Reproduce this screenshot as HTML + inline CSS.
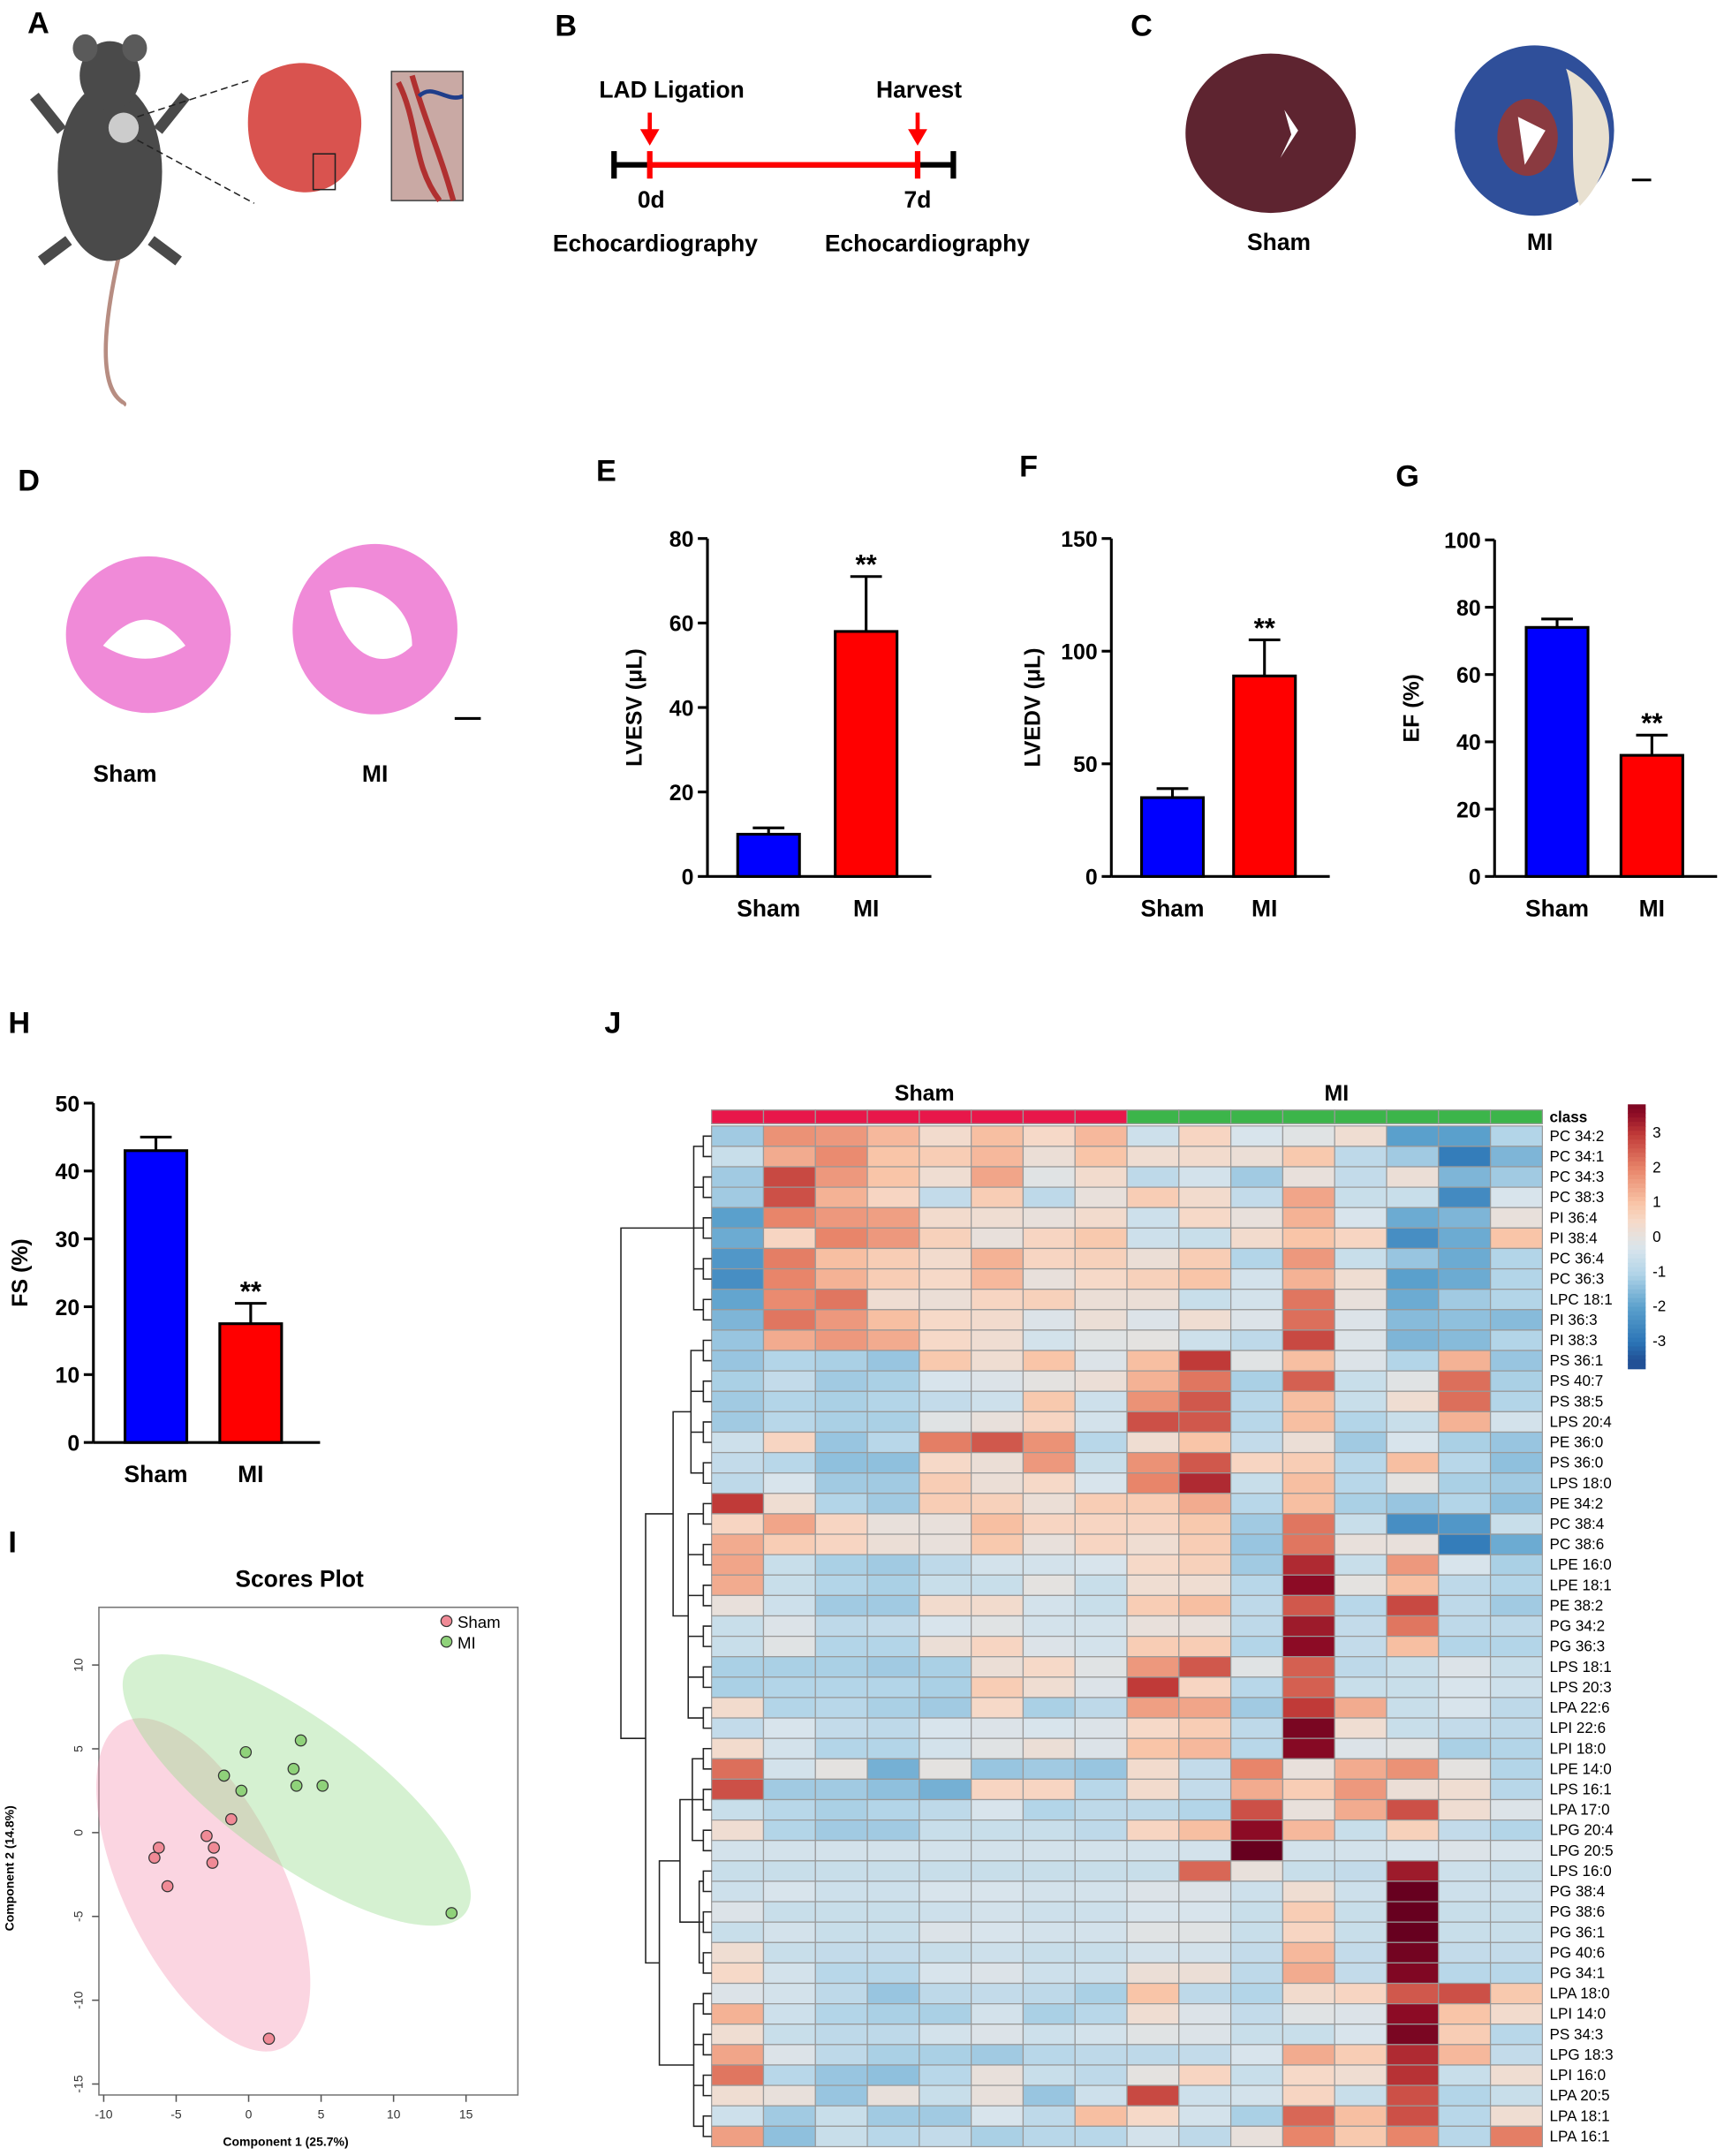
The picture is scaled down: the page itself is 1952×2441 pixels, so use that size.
<!DOCTYPE html>
<html><head><meta charset="utf-8"><style>
html,body{margin:0;padding:0;background:#fff;}
svg{display:block;font-family:"Liberation Sans",Arial,sans-serif;}
</style></head><body>
<svg id="fig" width="1952" height="2441" viewBox="0 0 1255 1569.4" preserveAspectRatio="none" xmlns="http://www.w3.org/2000/svg">
<g font-weight="bold" font-size="22">
<text x="20" y="24">A</text><text x="404" y="26">B</text><text x="823" y="26">C</text>
<text x="13" y="357">D</text><text x="434" y="350">E</text><text x="742" y="347">F</text>
<text x="1016" y="354">G</text><text x="6" y="752">H</text><text x="6" y="1130">I</text><text x="440" y="752">J</text>
</g>
<!-- Panel A -->
<g>
<path d="M88,180 C60,300 95,290 90,295" stroke="#b78d82" stroke-width="3" fill="none"/>
<ellipse cx="80" cy="125" rx="38" ry="65" fill="#4a4a4a"/>
<ellipse cx="80" cy="55" rx="22" ry="25" fill="#4a4a4a"/>
<ellipse cx="62" cy="35" rx="9" ry="10" fill="#5a5a5a"/><ellipse cx="98" cy="35" rx="9" ry="10" fill="#5a5a5a"/>
<path d="M45,95 L25,70 M115,95 L135,70 M50,175 L30,190 M110,175 L130,190" stroke="#4a4a4a" stroke-width="8"/>
<circle cx="90" cy="93" r="11" fill="#ccc"/>
<path d="M100,85 L183,58 M100,102 L185,148" stroke="#222" stroke-dasharray="5,3"/>
<path d="M190,55 C230,30 270,60 262,100 C258,140 220,150 195,130 C175,110 178,70 190,55Z" fill="#d9534f"/>
<rect x="228" y="112" width="16" height="26" fill="none" stroke="#222"/>
<rect x="285" y="52" width="52" height="94" fill="#c9a9a4" stroke="#444"/>
<path d="M290,60 C305,90 300,120 320,146 M300,55 C310,90 320,110 330,146" stroke="#b03030" stroke-width="4" fill="none"/>
<path d="M305,70 C315,60 325,75 337,70" stroke="#1f3d8a" stroke-width="3" fill="none"/>
</g>
<!-- Panel B -->
<g font-weight="bold" font-size="17" text-anchor="middle">
<line x1="447" y1="120" x2="694" y2="120" stroke="#000" stroke-width="4"/>
<line x1="447" y1="110" x2="447" y2="130" stroke="#000" stroke-width="4"/>
<line x1="694" y1="110" x2="694" y2="130" stroke="#000" stroke-width="4"/>
<line x1="473" y1="120" x2="668" y2="120" stroke="#f00" stroke-width="4"/>
<line x1="473" y1="110" x2="473" y2="130" stroke="#f00" stroke-width="4"/>
<line x1="668" y1="110" x2="668" y2="130" stroke="#f00" stroke-width="4"/>
<line x1="473" y1="82" x2="473" y2="96" stroke="#f00" stroke-width="3"/><polygon points="466,94 480,94 473,106" fill="#f00"/>
<line x1="668" y1="82" x2="668" y2="96" stroke="#f00" stroke-width="3"/><polygon points="661,94 675,94 668,106" fill="#f00"/>
<text x="489" y="71">LAD Ligation</text><text x="669" y="71">Harvest</text>
<text x="474" y="151">0d</text><text x="668" y="151">7d</text>
<text x="477" y="183">Echocardiography</text><text x="675" y="183">Echocardiography</text>
</g>
<!-- Panel C -->
<g font-weight="bold" font-size="17" text-anchor="middle">
<ellipse cx="925" cy="97" rx="62" ry="58" fill="#5e2430"/>
<path d="M935,80 L945,95 L932,115 L940,98Z" fill="#fff"/>
<ellipse cx="1117" cy="95" rx="58" ry="62" fill="#2f4f9a"/>
<path d="M1140,50 C1180,70 1180,120 1150,150 C1140,120 1150,80 1140,50Z" fill="#e8e0d0"/>
<ellipse cx="1112" cy="100" rx="22" ry="28" fill="#8a3a40"/>
<path d="M1105,85 L1125,95 L1110,120 Z" fill="#fff"/>
<line x1="1188" y1="131" x2="1202" y2="131" stroke="#000" stroke-width="2"/>
<text x="931" y="182">Sham</text><text x="1121" y="182">MI</text>
</g>
<!-- Panel D -->
<g font-weight="bold" font-size="17" text-anchor="middle">
<ellipse cx="108" cy="462" rx="60" ry="57" fill="#f08ad8"/>
<path d="M75,470 C100,440 120,450 135,470 C120,480 100,485 75,470Z" fill="#fff"/>
<ellipse cx="273" cy="458" rx="60" ry="62" fill="#f08ad8"/>
<path d="M240,430 C270,420 300,440 300,470 C280,490 250,480 240,430Z" fill="#fff"/>
<line x1="331" y1="523" x2="350" y2="523" stroke="#000" stroke-width="2"/>
<text x="91" y="569">Sham</text><text x="273" y="569">MI</text>
</g>
<g id="bars"></g>
<g id="pca"></g>
<g id="heat"></g>
</svg>
<script>
// ---------- Bar chart data ----------
const barGroups = ["Sham", "MI"];
const lvesvMeans = [10, 58];
const lvesvErr = [1.5, 13];
const lvedvMeans = [35, 89];
const lvedvErr = [4, 16];
const efMeans = [74, 36];
const efErr = [2.5, 6];
const fsMeans = [43, 17.5];
const fsErr = [2, 3];
const lvesvTicks = [0, 20, 40, 60, 80];
const lvedvTicks = [0, 50, 100, 150];
const efTicks = [0, 20, 40, 60, 80, 100];
const fsTicks = [0, 10, 20, 30, 40, 50];

// ---------- PCA data ----------
const shamX = [-6.5, -6.2, -5.6, -2.9, -2.4, -2.5, -1.2, 1.4];
const shamY = [-1.5, -0.9, -3.2, -0.2, -0.9, -1.8, 0.8, -12.3];
const miX = [-1.7, -0.5, -0.2, 3.1, 3.3, 3.6, 5.1, 14.0];
const miY = [3.4, 2.5, 4.8, 3.8, 2.8, 5.5, 2.8, -4.8];
const pcaXTicks = [-10, -5, 0, 5, 10, 15];
const pcaYTicks = [10, 5, 0, -5, -10, -15];

// ---------- Heatmap data ----------
const lipids = ["PC 34:2","PC 34:1","PC 34:3","PC 38:3","PI 36:4","PI 38:4","PC 36:4","PC 36:3","LPC 18:1","PI 36:3","PI 38:3","PS 36:1","PS 40:7","PS 38:5","LPS 20:4","PE 36:0","PS 36:0","LPS 18:0","PE 34:2","PC 38:4","PC 38:6","LPE 16:0","LPE 18:1","PE 38:2","PG 34:2","PG 36:3","LPS 18:1","LPS 20:3","LPA 22:6","LPI 22:6","LPI 18:0","LPE 14:0","LPS 16:1","LPA 17:0","LPG 20:4","LPG 20:5","LPS 16:0","PG 38:4","PG 38:6","PG 36:1","PG 40:6","PG 34:1","LPA 18:0","LPI 14:0","PS 34:3","LPG 18:3","LPI 16:0","LPA 20:5","LPA 18:1","LPA 16:1"];
const sampleClass = ["Sham","Sham","Sham","Sham","Sham","Sham","Sham","Sham","MI","MI","MI","MI","MI","MI","MI","MI"];
const heatValues = [
[-1.2,1.8,1.7,1.2,0.4,1.1,0.5,1.2,-0.5,0.6,-0.3,-0.1,0.3,-2,-2,-1],
[-0.6,1.4,1.9,1.0,0.8,1.2,0.2,1.0,0.3,0.4,0.2,0.9,-0.8,-1.2,-2.8,-1.6],
[-1.2,2.8,1.7,1.0,0.3,1.5,-0.1,0.4,-0.8,-0.4,-1.2,0.1,-0.7,0.2,-1.6,-1.2],
[-1.2,2.7,1.3,0.6,-0.7,0.8,-0.8,0.1,0.8,0.4,-0.7,1.5,-0.6,-0.6,-2.5,-0.3],
[-2,2.0,1.7,1.6,0.4,0.3,0.1,0.4,-0.5,0.5,0.1,1.3,-0.3,-1.8,-1.6,0.1],
[-1.8,0.6,2.0,1.7,0.7,0.1,0.6,0.9,-0.5,-0.6,0.4,1.0,0.6,-2.4,-1.8,1.0],
[-2.2,2.1,1.1,0.8,0.4,1.3,0.6,0.7,0.2,0.8,-1.0,1.7,-0.6,-1.3,-1.8,-1],
[-2.4,2.0,1.3,0.8,0.5,1.2,0.1,0.5,0.7,1.0,-0.4,1.3,0.3,-2,-1.8,-1],
[-1.9,1.9,2.2,0.3,0.2,0.6,0.7,0.2,0.2,-0.6,-0.4,2.2,0.1,-1.8,-1.2,-1],
[-1.6,2.2,1.7,1.1,0.5,0.4,-0.2,0.2,-0.2,0.3,-0.2,2.3,-0.2,-1.5,-1.4,-1.5],
[-1.3,1.4,1.7,1.4,0.5,0.3,-0.4,-0.1,0,-0.5,-0.8,2.8,-0.2,-1.6,-1.5,-1],
[-1.3,-1,-1.1,-1.3,0.9,0.3,1.0,-0.2,1.1,3.0,-0.1,1.1,-0.2,-1,1.3,-1.3],
[-1.1,-0.7,-1.2,-1.1,-0.3,-0.2,0,0.2,1.3,2.2,-1.1,2.5,-0.6,-0.1,2.3,-1.1],
[-1.2,-1,-1.1,-1,-0.7,-0.5,0.9,-0.5,1.8,2.6,-0.9,1.1,-0.6,0.3,2.3,-1],
[-1.2,-0.9,-1.1,-1.1,-0.1,0.1,0.6,-0.4,2.7,2.6,-0.9,1.1,-1.0,-0.6,1.3,-0.4],
[-0.5,0.6,-1.3,-0.9,2.1,2.6,1.8,-0.9,0.3,1.0,-0.7,0.2,-1.2,-0.3,-1.1,-1.3],
[-0.7,-0.9,-1.4,-1.4,0.5,0.2,1.7,-0.6,1.8,2.6,0.6,0.8,-0.9,1.1,-0.9,-1.4],
[-0.8,-0.3,-1.2,-1.2,0.8,0.2,0.5,-0.3,2.0,3.2,-0.6,1.1,-0.9,0,-1.1,-1.2],
[3.0,0.3,-1,-1.2,0.8,0.7,0.2,0.8,0.8,1.4,-0.9,1.1,-1.1,-1.3,-1,-1.4],
[0.6,1.5,0.6,0.1,0.1,1.1,0.6,0.6,0.6,0.9,-1.2,2.2,-0.6,-2.4,-2.2,-0.6],
[1.4,0.8,0.6,0.2,0.1,0.9,0.1,0.6,0.3,0.8,-1.3,2.2,0.1,0.1,-2.8,-1.8],
[1.5,-0.6,-1.1,-1.2,-0.8,-0.4,-0.4,-0.3,0.5,0.7,-1.2,3.2,-0.6,1.7,-0.3,-1.1],
[1.4,-0.6,-1,-1.1,-0.6,-0.6,0,-0.6,0.3,0.3,-0.9,3.6,0,1.1,-0.8,-1],
[0.1,-0.5,-1.2,-1.2,0.4,0.4,-0.4,-0.6,0.8,1.1,-0.8,2.6,-0.9,2.8,-0.8,-1.2],
[-0.6,-0.2,-0.8,-0.7,-0.3,-0.1,-0.4,-0.4,0.1,0.1,-0.8,3.4,-0.7,2.2,-0.8,-0.8],
[-0.6,-0.1,-1,-1,0.2,0.6,-0.2,-0.4,0.8,0.8,-1,3.6,-0.7,1.1,-1,-1],
[-1.1,-1.1,-1.1,-1.2,-1.1,0.2,0.5,-0.1,1.7,2.6,-0.1,2.5,-0.8,-0.6,-0.2,-0.6],
[-1.1,-1,-1,-1,-1.1,0.8,0.3,-0.2,3.0,0.6,-0.9,2.5,-0.6,-0.6,-0.3,-0.5],
[0.4,-1,-0.9,-1.1,-1.2,0.5,-1.1,-0.8,1.6,1.5,-1.2,3.0,1.4,-0.6,-0.3,-0.8],
[-0.7,-0.3,-0.7,-0.8,-0.3,-0.2,-0.3,-0.2,0.5,0.8,-0.8,3.9,0.3,-0.6,-0.7,-0.8],
[0.4,-0.4,-1,-1,-0.4,-0.1,0.2,-0.2,1.0,1.2,-0.9,3.7,-0.2,-0.1,-1.1,-1],
[2.3,-0.4,0,-1.7,0,-1.3,-1.2,-1.3,0.4,-0.7,2.0,0.1,1.4,1.8,0,-1],
[2.7,-1.2,-1.2,-1.4,-1.7,0.6,0.6,-0.9,0.4,-0.7,1.4,0.8,1.7,0.2,0.3,-0.9],
[-0.6,-0.9,-1.1,-1,-0.8,-0.3,-1,-0.8,-0.8,-1,2.7,0.1,1.4,2.7,0.3,-0.2],
[0.3,-1,-1.2,-1.2,-0.6,-0.6,-0.6,-0.8,0.6,1.1,3.6,1.2,-0.6,0.7,-0.7,-1],
[-0.4,-0.4,-0.4,-0.4,-0.4,-0.4,-0.4,-0.4,-0.4,-0.4,4.2,-0.4,-0.4,-0.3,-0.2,-0.3],
[-0.6,-0.6,-0.6,-0.6,-0.6,-0.6,-0.6,-0.6,-0.6,2.4,0.1,-0.6,-0.7,3.4,-0.5,-0.6],
[-0.5,-0.3,-0.5,-0.5,-0.3,-0.3,-0.4,-0.4,-0.2,-0.2,-0.5,0.3,-0.5,4.2,-0.5,-0.5],
[-0.2,-0.6,-0.6,-0.6,-0.5,-0.4,-0.5,-0.5,-0.3,-0.3,-0.6,0.8,-0.6,4.2,-0.6,-0.6],
[-0.6,-0.4,-0.6,-0.6,-0.2,-0.3,-0.4,-0.4,-0.1,-0.1,-0.6,0.6,-0.6,4.2,-0.6,-0.6],
[0.3,-0.6,-0.7,-0.7,-0.6,-0.5,-0.6,-0.6,-0.4,-0.4,-0.7,1.2,-0.7,4.0,-0.7,-0.7],
[0.5,-0.4,-0.9,-0.9,-0.3,-0.2,-0.5,-0.5,0.2,0.2,-0.8,1.4,-0.7,3.8,-0.9,-0.9],
[-0.2,-0.4,-0.8,-1.3,-0.8,-0.7,-0.8,-1.1,1.0,-0.8,-1,0.4,0.6,2.6,2.7,0.9],
[1.3,-0.5,-1,-1.1,-1.1,-0.4,-1.1,-0.9,0.3,-0.2,-0.7,-0.1,-0.2,3.6,1.0,0.4],
[0.3,-0.6,-0.8,-0.8,-0.4,-0.2,-0.5,-0.4,-0.1,-0.2,-0.6,-0.6,-0.3,3.9,0.8,-0.9],
[1.5,-0.2,-0.8,-1.1,-1.1,-1.2,-0.9,-0.8,-0.8,-0.7,-0.3,1.4,0.8,3.2,1.2,-0.7],
[2.2,-0.9,-1.3,-1.4,-0.9,0.1,-0.6,-0.8,0,0.6,-0.6,0.5,0.3,3.1,-0.6,0.3],
[0.3,0.1,-1.3,0.1,-0.6,0.1,-1.3,-0.5,2.8,-0.5,-0.4,0.6,-0.6,2.7,-1,-0.6],
[-0.5,-1.2,-0.6,-1.2,-1.2,-0.3,-0.8,1.1,0.5,-0.4,-1.1,2.4,1.1,2.7,-0.9,0.3],
[1.6,-1.4,-0.6,-0.9,-0.7,-1.1,-0.9,-0.9,-0.4,-0.8,0.1,2.0,0.9,2.0,-0.9,2.1]
];
const legendTicks = [3, 2, 1, 0, -1, -2, -3];

const NS = "http://www.w3.org/2000/svg";
function mk(tag, attrs, parent, txt) {
  const e = document.createElementNS(NS, tag);
  for (const k in attrs) e.setAttribute(k, attrs[k]);
  if (txt !== undefined) e.textContent = txt;
  parent.appendChild(e);
  return e;
}

// ---------- bar charts ----------
function barChart(cfg, means, errs, ticks) {
  const g = mk("g", {}, document.getElementById("bars"));
  
  
  const maxV = ticks[ticks.length - 1];
  const y = v => cfg.y0 - (cfg.y0 - cfg.yTop) * v / maxV;
  mk("line", {x1: cfg.ax, y1: cfg.yTop, x2: cfg.ax, y2: cfg.y0, stroke: "#000", "stroke-width": 2}, g);
  mk("line", {x1: cfg.ax, y1: cfg.y0, x2: cfg.xEnd, y2: cfg.y0, stroke: "#000", "stroke-width": 2}, g);
  ticks.forEach(t => {
    mk("line", {x1: cfg.ax - 7, y1: y(t), x2: cfg.ax, y2: y(t), stroke: "#000", "stroke-width": 2}, g);
    const tl = mk("text", {x: cfg.ax - 10, y: y(t) + 6, "text-anchor": "end", "font-size": 16, "font-weight": "bold"}, g, String(t));
    
    
  });
  const yl = mk("text", {transform: `translate(${cfg.labX},${(cfg.yTop + cfg.y0) / 2}) rotate(-90)`, "text-anchor": "middle", "font-size": 16, "font-weight": "bold"}, g, cfg.ylabel);
  
  
  const colors = ["#0000ff", "#ff0000"];
  means.forEach((m, i) => {
    const x = cfg.bx[i];
    const top = y(m), et = y(m + errs[i]);
    mk("line", {x1: x + 22.5, y1: et, x2: x + 22.5, y2: top, stroke: "#000", "stroke-width": 2}, g);
    mk("line", {x1: x + 11, y1: et, x2: x + 34, y2: et, stroke: "#000", "stroke-width": 2}, g);
    const r = mk("rect", {x: x, y: top, width: 45, height: cfg.y0 - top, fill: colors[i], stroke: "#000", "stroke-width": 2}, g);
    
    
    const lb = mk("text", {x: x + 22.5, y: cfg.y0 + 29, "text-anchor": "middle", "font-size": 17, "font-weight": "bold"}, g, barGroups[i]);
    
    
    if (i === 1) {
      const s = mk("text", {x: x + 22.5, y: et - 2, "text-anchor": "middle", "font-size": 20, "font-weight": "bold"}, g, "**");
      
      
    }
  });
}
barChart({name: "lvesv-chart", ax: 515, yTop: 392, y0: 638, xEnd: 678, bx: [537, 608], labX: 467, ylabel: "LVESV (μL)"}, lvesvMeans, lvesvErr, lvesvTicks);
barChart({name: "lvedv-chart", ax: 809, yTop: 392, y0: 638, xEnd: 968, bx: [831, 898], labX: 757, ylabel: "LVEDV (μL)"}, lvedvMeans, lvedvErr, lvedvTicks);
barChart({name: "ef-chart", ax: 1088, yTop: 393, y0: 638, xEnd: 1250, bx: [1111, 1180], labX: 1033, ylabel: "EF (%)"}, efMeans, efErr, efTicks);
barChart({name: "fs-chart", ax: 68, yTop: 803, y0: 1050, xEnd: 233, bx: [91, 160], labX: 20, ylabel: "FS (%)"}, fsMeans, fsErr, fsTicks);

// ---------- PCA ----------
(function () {
  const g = document.getElementById("pca");
  
  
  const px = v => 181 + v * 10.55, py = v => 1334 - v * 12.2;
  mk("text", {x: 218, y: 1155, "text-anchor": "middle", "font-size": 17, "font-weight": "bold"}, g, "Scores Plot");
  mk("rect", {x: 72, y: 1170, width: 305, height: 355, fill: "none", stroke: "#777", "stroke-width": 1}, g);
  mk("ellipse", {cx: 148, cy: 1372, rx: 132, ry: 58, transform: "rotate(64 148 1372)", fill: "rgba(245,150,180,0.4)"}, g);
  mk("ellipse", {cx: 216, cy: 1303, rx: 152, ry: 52, transform: "rotate(36 216 1303)", fill: "rgba(150,220,140,0.4)"}, g);
  pcaXTicks.forEach(t => {
    mk("line", {x1: px(t), y1: 1525, x2: px(t), y2: 1530, stroke: "#555"}, g);
    mk("text", {x: px(t), y: 1542, "text-anchor": "middle", "font-size": 9, fill: "#333"}, g, String(t));
  });
  pcaYTicks.forEach(t => {
    mk("line", {x1: 67, y1: py(t), x2: 72, y2: py(t), stroke: "#555"}, g);
    mk("text", {transform: `translate(60,${py(t)}) rotate(-90)`, "text-anchor": "middle", "font-size": 9, fill: "#333"}, g, String(t));
  });
  mk("text", {x: 208, y: 1562, "text-anchor": "middle", "font-size": 9, "font-weight": "bold"}, g, "Component 1 (25.7%)");
  mk("text", {transform: "translate(10,1360) rotate(-90)", "text-anchor": "middle", "font-size": 9, "font-weight": "bold"}, g, "Component 2 (14.8%)");
  shamX.forEach((v, i) => {
    const c = mk("circle", {cx: px(v), cy: py(shamY[i]), r: 4, fill: "#f08a96", stroke: "#333", "stroke-width": 0.8}, g);
    
    
  });
  miX.forEach((v, i) => {
    const c = mk("circle", {cx: px(v), cy: py(miY[i]), r: 4, fill: "#8fd27a", stroke: "#333", "stroke-width": 0.8}, g);
    
    
  });
  const lg = mk("g", {}, g);
  
  
  mk("circle", {cx: 325, cy: 1180, r: 4, fill: "#f08a96", stroke: "#333", "stroke-width": 0.8}, lg);
  mk("text", {x: 333, y: 1185, "font-size": 12}, lg, "Sham");
  mk("circle", {cx: 325, cy: 1195, r: 4, fill: "#8fd27a", stroke: "#333", "stroke-width": 0.8}, lg);
  mk("text", {x: 333, y: 1200, "font-size": 12}, lg, "MI");
})();

// ---------- heatmap ----------
const stops = [[-3.5,[33,80,150]],[-3,[43,116,182]],[-2,[90,160,204]],[-1,[179,213,232]],[-0.3,[216,228,236]],[0,[228,226,224]],[0.5,[246,217,200]],[1,[249,197,168]],[2,[232,133,106]],[3,[192,58,56]],[3.6,[140,11,37]],[4.2,[103,0,31]]];
function col(v) {
  if (v <= stops[0][0]) v = stops[0][0];
  if (v >= stops[stops.length-1][0]) v = stops[stops.length-1][0];
  for (let i = 0; i < stops.length - 1; i++) {
    const a = stops[i], b = stops[i+1];
    if (v >= a[0] && v <= b[0]) {
      const t = (v - a[0]) / (b[0] - a[0]);
      const c = a[1].map((x, k) => Math.round(x + (b[1][k] - x) * t));
      return `rgb(${c[0]},${c[1]},${c[2]})`;
    }
  }
  return "#ccc";
}
(function () {
  const g = document.getElementById("heat");
  
  
  const x0 = 518, cw = 37.8, y0 = 819.6, rh = 14.86;
  mk("text", {x: 673, y: 801, "text-anchor": "middle", "font-size": 16, "font-weight": "bold"}, g, "Sham");
  mk("text", {x: 973, y: 801, "text-anchor": "middle", "font-size": 16, "font-weight": "bold"}, g, "MI");
  sampleClass.forEach((c, j) => {
    const r = mk("rect", {x: x0 + j * cw, y: 808, width: cw, height: 10, fill: c === "Sham" ? "#e8174a" : "#3cb54a", stroke: "#999", "stroke-width": 0.8}, g);
    
    
  });
  mk("text", {x: 1128, y: 817, "font-size": 11, "font-weight": "bold"}, g, "class");
  heatValues.forEach((row, i) => {
    row.forEach((v, j) => {
      const r = mk("rect", {x: x0 + j * cw, y: y0 + i * rh, width: cw, height: rh, fill: col(v), stroke: "#999", "stroke-width": 0.8}, g);
      
      
    });
    const t = mk("text", {x: 1128, y: y0 + i * rh + 11, "font-size": 11}, g, lipids[i]);
    
    
  });
  // color legend
  const lg = mk("g", {}, g);
  
  
  const ly = v => 900 - v * 25.3;
  for (let k = 0; k < 60; k++) {
    const v = 3.8 - k * 7.6 / 60;
    mk("rect", {x: 1185, y: ly(v), width: 13, height: 7.6 / 60 * 25.3 + 0.6, fill: col(v)}, lg);
  }
  legendTicks.forEach(t => {
    mk("text", {x: 1203, y: ly(t) + 4, "font-size": 11}, lg, String(t));
  });
  // dendrogram (approximate structure)
  const d = mk("g", {stroke: "#222", "stroke-width": 1, fill: "none"}, g);
  
  
  const rc = i => y0 + (i + 0.5) * rh;
  function br(xa, ya, yb, xEnd1, xEnd2) {
    mk("path", {d: `M${xEnd1},${ya} H${xa} V${yb} H${xEnd2}`}, d);
  }
  // leaf pairs
  for (let i = 0; i < 50; i += 2) br(512, rc(i), rc(i + 1), 518, 518);
  const pairMid = i => (rc(i) + rc(i + 1)) / 2;
  // groups of pairs
  const groups = [[0, 10, 505], [10, 18, 503], [18, 30, 501], [30, 36, 504], [36, 42, 509], [42, 50, 505]];
  const gm = [];
  groups.forEach(([a, b, x]) => {
    br(x, pairMid(a), pairMid(b - 2), 512, 512);
    for (let i = a + 2; i < b - 2; i += 2) mk("path", {d: `M${x},${pairMid(i)} H512`}, d);
    gm.push([(pairMid(a) + pairMid(b - 2)) / 2, x]);
  });
  br(490, gm[1][0], gm[2][0], gm[1][1], gm[2][1]);
  br(495, gm[3][0], gm[4][0], gm[3][1], gm[4][1]);
  const m12 = (gm[1][0] + gm[2][0]) / 2, m34 = (gm[3][0] + gm[4][0]) / 2;
  br(480, m34, gm[5][0], 495, gm[5][1]);
  const m345 = (m34 + gm[5][0]) / 2;
  br(470, m12, m345, 490, 480);
  const mb = (m12 + m345) / 2;
  br(452, gm[0][0], mb, gm[0][1], 470);
})();
</script>
</body></html>
